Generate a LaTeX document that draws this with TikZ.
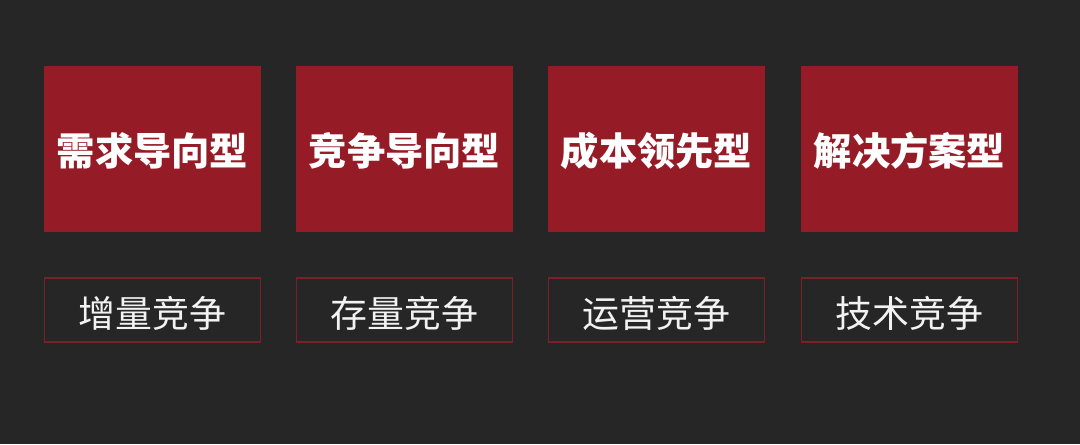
\documentclass[tikz,border=0pt]{standalone}
\usepackage{fontspec}
\newfontfamily\cjk{Noto Sans CJK SC}
\definecolor{bgdark}{HTML}{262626}
\definecolor{boxred}{HTML}{951C26}
\definecolor{linered}{HTML}{7A2028}
\definecolor{textwhite}{HTML}{F2F2F2}
\tikzset{
    typebox/.style={fill=boxred, minimum width=4.34cm, minimum height=3.32cm, inner sep=0pt,
        text=white, font=\cjk\bfseries\fontsize{21.8pt}{26pt}\selectfont, text height=21.4pt, text depth=2.6pt},
    modebox/.style={draw=linered, line width=0.6pt, minimum width=4.32cm, minimum height=1.28cm, inner sep=0pt,
        text=textwhite, font=\cjk\fontsize{21pt}{25pt}\selectfont, text height=21.9pt, text depth=2.5pt}
}
\begin{document}
\begin{tikzpicture}[x=0.02cm, y=-0.02cm]

        \fill[bgdark] (0,0) rectangle (1080,444);
        \useasboundingbox (0,0) rectangle (1080,444);
        \node[typebox] (t1) at (152.5,149) {需求导向型};
        \node[typebox] (t2) at (404.5,149) {竞争导向型};
        \node[typebox] (t3) at (656.5,149) {成本领先型};
        \node[typebox] (t4) at (909.5,149) {解决方案型};
        \node[modebox] (m1) at (152.5,310) {增量竞争};
        \node[modebox] (m2) at (404.5,310) {存量竞争};
        \node[modebox] (m3) at (656.5,310) {运营竞争};
        \node[modebox] (m4) at (909.5,310) {技术竞争};
    \end{tikzpicture}
\end{document}
